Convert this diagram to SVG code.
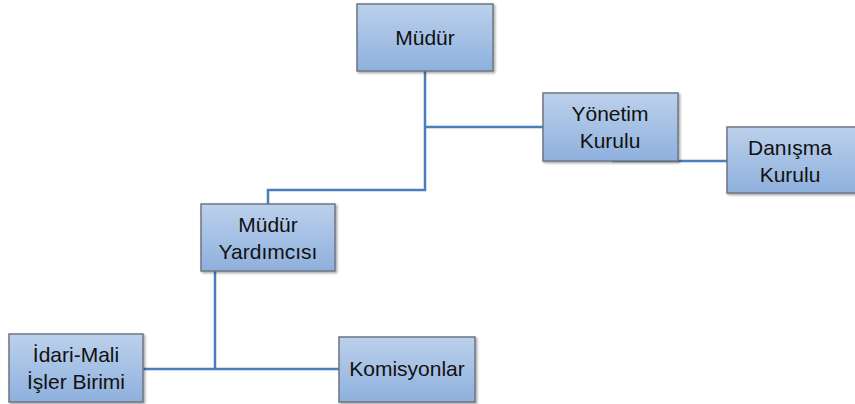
<svg xmlns="http://www.w3.org/2000/svg" width="855" height="404" viewBox="0 0 855 404">
<defs>
<linearGradient id="g" x1="0" y1="0" x2="0" y2="1">
<stop offset="0" stop-color="#BCD1EC"/>
<stop offset="1" stop-color="#8EB0DD"/>
</linearGradient>
<filter id="sh" x="-10%" y="-10%" width="130%" height="130%">
<feDropShadow dx="1.5" dy="1.5" stdDeviation="1" flood-color="#000" flood-opacity="0.35"/>
</filter>
</defs>
<style>
.box{fill:url(#g);stroke:#6E7681;stroke-width:1.5;filter:url(#sh)}
.t{font-family:"Liberation Sans",Arial,sans-serif;font-size:21px;fill:#111;text-anchor:middle}
.c{fill:none;stroke:#4A7EBB;stroke-width:2.5}
</style>
<g id="connectors">
<path class="c" d="M425 71 V190 H268 V204"/>
<path class="c" d="M425 127 H543"/>
<path class="c" d="M612 161 H727"/>
<path class="c" d="M215 271 V369"/>
<path class="c" d="M143 369 H339"/>
</g>
<g id="mudur">
<rect class="box" x="357" y="4" width="136" height="67"/>
<text class="t" x="425" y="45">Müdür</text>
</g>
<g id="yonetim">
<rect class="box" x="543" y="93" width="135" height="68"/>
<text class="t" x="610" y="121">Yönetim</text>
<text class="t" x="610" y="148">Kurulu</text>
</g>
<g id="danisma">
<rect class="box" x="727" y="127" width="130" height="66"/>
<text class="t" x="790" y="155">Danışma</text>
<text class="t" x="790" y="182">Kurulu</text>
</g>
<g id="yardimci">
<rect class="box" x="201" y="204" width="134" height="67"/>
<text class="t" x="268" y="232">Müdür</text>
<text class="t" x="268" y="259">Yardımcısı</text>
</g>
<g id="idari">
<rect class="box" x="9" y="334" width="134" height="68"/>
<text class="t" x="76" y="362">İdari-Mali</text>
<text class="t" x="76" y="389">İşler Birimi</text>
</g>
<g id="komisyon">
<rect class="box" x="339" y="337" width="136" height="65"/>
<text class="t" x="407" y="376">Komisyonlar</text>
</g>
</svg>
